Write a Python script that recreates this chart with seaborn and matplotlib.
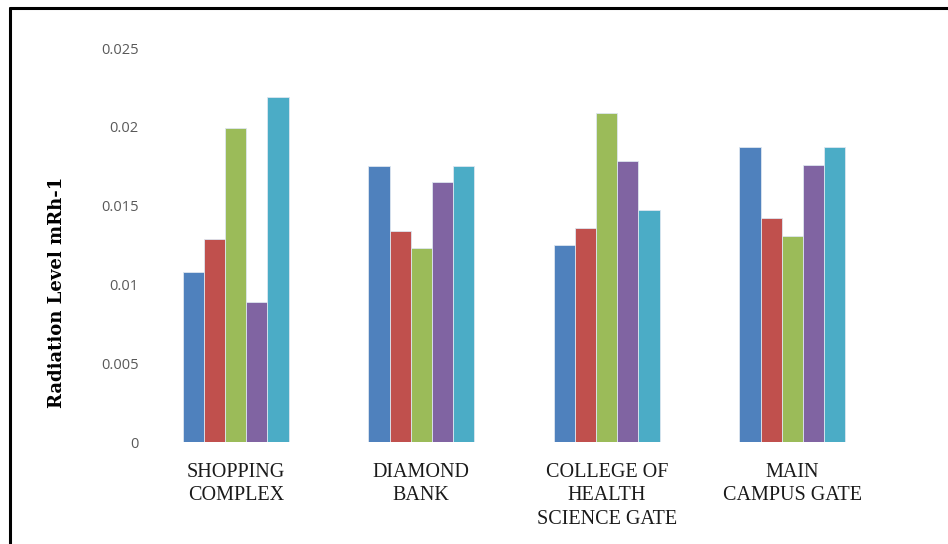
import matplotlib
matplotlib.use("Agg")
import matplotlib.pyplot as plt
from matplotlib.lines import Line2D
import pandas as pd
import seaborn as sns

# Sampling locations (x categories)
locations = [
    "SHOPPING\nCOMPLEX",
    "DIAMOND\nBANK",
    "COLLEGE OF\nHEALTH\nSCIENCE GATE",
    "MAIN\nCAMPUS GATE",
]

# Radiation readings (mR/h) for the five measurement series at each location
series_names = ["Series 1", "Series 2", "Series 3", "Series 4", "Series 5"]
series_1 = [0.0108, 0.0175, 0.0125, 0.0187]
series_2 = [0.0129, 0.0134, 0.0136, 0.0142]
series_3 = [0.0199, 0.0123, 0.0209, 0.0131]
series_4 = [0.0089, 0.0165, 0.0178, 0.0176]
series_5 = [0.0219, 0.0175, 0.0147, 0.0187]

y_ticks = [0, 0.005, 0.01, 0.015, 0.02, 0.025]
y_tick_labels = ["0", "0.005", "0.01", "0.015", "0.02", "0.025"]

colors = ["#4F81BD", "#C0504D", "#9BBB59", "#8064A2", "#4BACC6"]

rows = []
for name, vals in zip(series_names,
                      [series_1, series_2, series_3, series_4, series_5]):
    for loc, v in zip(locations, vals):
        rows.append({"location": loc, "series": name, "level": v})
df = pd.DataFrame(rows)

sns.set_theme(style="white")
plt.rcParams["font.family"] = ["DejaVu Sans"]

fig = plt.figure(figsize=(9.48, 5.44), dpi=100)
ax = fig.add_axes([143 / 948, 102 / 544, 742 / 948, 394 / 544])

sns.barplot(
    data=df, x="location", y="level", hue="series",
    order=locations, hue_order=series_names,
    palette=colors, width=0.57, saturation=1.0,
    edgecolor="#dde6f0", linewidth=0.6,
    legend=False, ax=ax,
)

ax.set_xlim(-0.5, 3.5)
ax.set_ylim(0, 0.025)
ax.set_yticks(y_ticks)
ax.set_yticklabels(y_tick_labels, fontsize=10.5, color="#595959",
                   family=["Open Sans", "DejaVu Sans"])
ax.tick_params(axis="y", length=0, pad=3)
ax.tick_params(axis="x", length=0, pad=15)
for lbl in ax.get_xticklabels():
    lbl.set_family(["Liberation Serif", "DejaVu Serif"])
    lbl.set_fontsize(14.5)
    lbl.set_color("#1a1a1a")
    lbl.set_linespacing(1.32)
    lbl.set_verticalalignment("top")
ax.set_xlabel("")
ax.set_ylabel("")
for side in ["top", "right", "bottom", "left"]:
    ax.spines[side].set_visible(False)

fig.text(57 / 948, 1 - 292 / 544, "Radiation Level mRh-1",
         rotation=90, ha="center", va="center",
         fontsize=13, fontweight="bold", color="black",
         family=["DejaVu Serif"])

# Frame lines along the left and top edges of the figure
fig.add_artist(Line2D([10 / 948, 10 / 948], [0, 1 - 8 / 544],
                      transform=fig.transFigure, color="black", linewidth=2.2))
fig.add_artist(Line2D([10 / 948, 1], [1 - 8 / 544, 1 - 8 / 544],
                      transform=fig.transFigure, color="black", linewidth=2.2))

fig.savefig("out.png", dpi=100, facecolor="white")
